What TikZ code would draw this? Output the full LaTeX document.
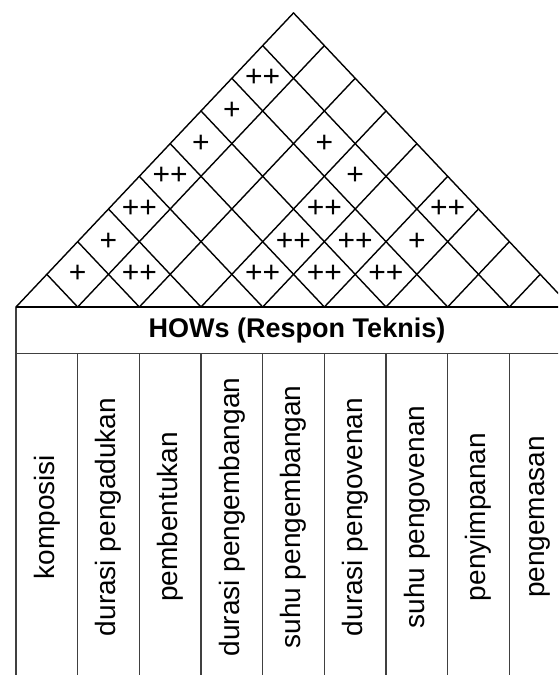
\documentclass[tikz,border=0pt]{standalone}
\usepackage{fontspec}
\setmainfont{Liberation Sans}
\begin{document}
\begin{tikzpicture}[x=1pt, y=-1pt,
  roof/.style={line width=1.4pt, line cap=round},
  grid/.style={draw=black!75, line width=1.1pt},
  lbl/.style={rotate=90, inner sep=0pt, font=\fontsize{28}{30}\selectfont},
  hdr/.style={inner sep=0pt, font=\bfseries\fontsize{27}{30}\selectfont},
  corr/.style={inner sep=0pt, font=\fontsize{30}{30}\selectfont}]
  \def\cw{61.67} \def\hw{30.83} \def\hh{32.67} \def\yb{307}
  \useasboundingbox (0,0) rectangle (558,675);
  \clip (0,0) rectangle (558,675);
  % roof grid
  \foreach \k in {0,...,9} {
    \draw[roof] ({16+\k*\cw},\yb) -- ++({(9-\k)*\hw},{-(9-\k)*\hh});
    \draw[roof] ({16+\k*\cw},\yb) -- ++({-\k*\hw},{-\k*\hh});
  }
  % correlations
  \foreach \i/\j/\s in {1/2/+, 1/3/+, 1/4/++, 1/5/++, 1/6/+, 1/7/+, 1/8/++,
      2/3/++, 3/8/+, 4/5/++, 4/6/++, 4/7/++, 4/8/+,
      5/6/++, 5/7/++, 6/7/++, 6/8/+, 6/9/++}
    \node[corr] (r\i\j) at ({16+(\i+\j-1)*\hw},{\yb-(\j-\i)*\hh}) {\s};
  % header and columns
  \draw[grid] (16,\yb) -- (16,677);
  \draw[grid] (16,353.5) -- (571,353.5);
  \foreach \k in {1,...,8}
    \draw[grid] ({16+\k*\cw},353.5) -- ++(0,330);
  \draw[line width=2pt] (16,\yb) -- (571,\yb);
  \node[hdr] (how) at (297,330.5) {HOWs (Respon Teknis)};
  \foreach \t [count=\k] in {komposisi, durasi pengadukan, pembentukan,
      durasi pengembangan, suhu pengembangan, durasi pengovenan,
      suhu pengovenan, penyimpanan, pengemasan}
    \node[lbl] (c\k) at ({16+(\k-0.5)*\cw},517) {\t};
\end{tikzpicture}
\end{document}
